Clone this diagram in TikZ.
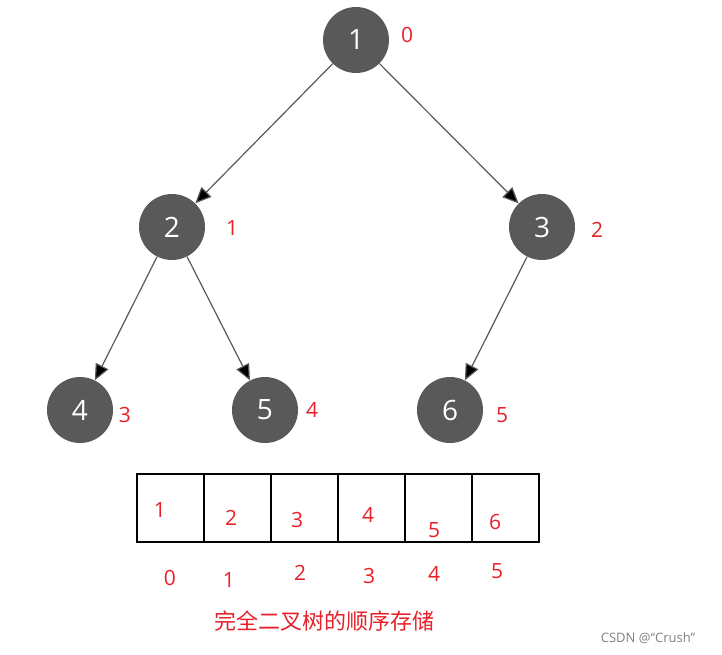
\documentclass[tikz,border=0pt]{standalone}
\usepackage{fontspec}
\setmainfont{Open Sans}
\newfontfamily\cjk{Noto Sans CJK SC}
\usetikzlibrary{arrows.meta}
\definecolor{nd}{HTML}{595959}
\definecolor{rd}{HTML}{E8202A}
\begin{document}
\begin{tikzpicture}[x=1pt,y=-1pt,
 tn/.style={circle,fill=nd,minimum size=66pt,inner sep=0pt,text=white,font=\fontsize{28}{30}\selectfont},
 lb/.style={text=rd,font=\fontsize{21}{23}\selectfont},
 ed/.style={draw=nd,line width=1.2pt,-{Triangle[length=16pt,width=14pt,fill=black]}},
 cell/.style={draw,line width=1.4pt,minimum width=67pt,minimum height=68pt,inner sep=0pt}]
\useasboundingbox (0,0) rectangle (722,654);
\node[tn] (n1) at (356,40) {1};
\node[tn] (n2) at (172,227) {2};
\node[tn] (n3) at (542,227) {3};
\node[tn] (n4) at (80,410) {4};
\node[tn] (n5) at (265,410) {5};
\node[tn] (n6) at (450,410) {6};
\draw[ed] (n1) -- (n2);
\draw[ed] (n1) -- (n3);
\draw[ed] (n2) -- (n4);
\draw[ed] (n2) -- (n5);
\draw[ed] (n3) -- (n6);
\node[lb] (l0) at (407,35) {0};
\node[lb] (l1) at (232,228) {1};
\node[lb] (l2) at (597,230) {2};
\node[lb] (l3) at (125,415) {3};
\node[lb] (l4) at (312,410) {4};
\node[lb] (l5) at (502,415) {5};
\foreach \i in {0,...,5}{\node[cell] (c\i) at (170.5+67*\i,508) {};}
\node[lb] at (160,510) {1};
\node[lb] at (231,518) {2};
\node[lb] at (297,520) {3};
\node[lb] at (368,515) {4};
\node[lb] at (434,530) {5};
\node[lb] at (495,522) {6};
\node[lb] at (170,578) {0};
\node[lb] at (229,580) {1};
\node[lb] at (300,573) {2};
\node[lb] at (369,576) {3};
\node[lb] at (434,574) {4};
\node[lb] at (497,571) {5};
\node[text=rd,font=\cjk\fontsize{22}{24}\selectfont] (cap) at (324,621) {完全二叉树的顺序存储};
\node[text=gray,font=\fontsize{13}{15}\selectfont] (wm) at (648,638) {CSDN @“Crush”};
\end{tikzpicture}
\end{document}
